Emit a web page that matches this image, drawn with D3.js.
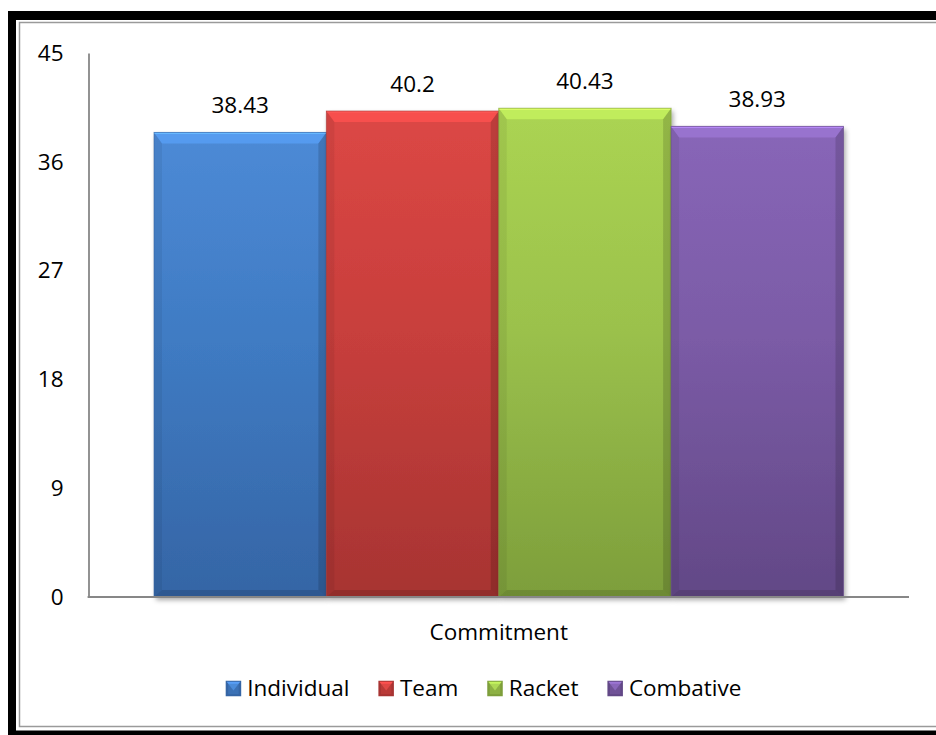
<!DOCTYPE html>
<html>
<head>
<meta charset="utf-8">
<script src="https://cdn.jsdelivr.net/npm/d3@7"></script>
<style>
  html, body { margin: 0; padding: 0; background: #fff; }
  svg { display: block; }
  text { font-family: "Open Sans", "Liberation Sans", sans-serif; fill: #000; }
</style>
</head>
<body>
<svg id="chart" width="936" height="735"></svg>
<script>
// Chart data
const categories = ["Commitment"];
const seriesNames = ["Individual", "Team", "Racket", "Combative"];
const seriesValues = [38.43, 40.2, 40.43, 38.93];
const yTicks = [0, 9, 18, 27, 36, 45];

// Fill colours per series: light (top), mid, dark (bottom)
const palette = [
  { light: "#4d8ad6", mid: "#3f7bc3", dark: "#3565a5" },
  { light: "#dc4745", mid: "#c83f3c", dark: "#a73432" },
  { light: "#abd452", mid: "#9bc14c", dark: "#7d9e3b" },
  { light: "#8866b8", mid: "#7b5ba6", dark: "#624886" }
];

const svg = d3.select("#chart");
const W = 936, H = 735;
const FS = 22.5;

// Frame: thick black border with thin grey inner rule
svg.append("rect").attr("x", 8).attr("y", 11).attr("width", 960).attr("height", 740).attr("fill", "#000");
svg.append("rect").attr("x", 16).attr("y", 20).attr("width", 950).attr("height", 710.5).attr("fill", "#fff");
svg.append("rect").attr("x", 19.5).attr("y", 22.5).attr("width", 950).attr("height", 704)
  .attr("fill", "none").attr("stroke", "#9a9a9a").attr("stroke-width", 1.5);

const plot = { left: 88.5, right: 909, top: 53, bottom: 597 };

const y = d3.scaleLinear().domain([0, 45]).range([plot.bottom, plot.top]);
const x0 = d3.scaleBand().domain(categories).range([plot.left, plot.right])
  .paddingInner(0).paddingOuter(0.095);
const x1 = d3.scaleBand().domain(seriesNames).range([0, x0.bandwidth()]).padding(0);

const defs = svg.append("defs");
palette.forEach((c, i) => {
  const g = defs.append("linearGradient").attr("id", "grad" + i)
    .attr("x1", 0).attr("y1", 0).attr("x2", 0).attr("y2", 1);
  g.append("stop").attr("offset", "0%").attr("stop-color", c.light);
  g.append("stop").attr("offset", "45%").attr("stop-color", c.mid);
  g.append("stop").attr("offset", "100%").attr("stop-color", c.dark);
});
const shadow = defs.append("filter").attr("id", "shadow")
  .attr("x", "-10%").attr("y", "-10%").attr("width", "130%").attr("height", "130%");
shadow.append("feDropShadow").attr("dx", 2).attr("dy", 3).attr("stdDeviation", 2.5)
  .attr("flood-color", "#000").attr("flood-opacity", 0.35);

// Axes (no tick marks, grey lines)
const yAxis = d3.axisLeft(y).tickValues(yTicks).tickSize(0).tickPadding(25);
const yG = svg.append("g").attr("transform", `translate(${plot.left},0)`).call(yAxis);
yG.select(".domain").attr("stroke", "#878787").attr("stroke-width", 1.8);
yG.selectAll("text").attr("font-size", FS).attr("font-family", "'Open Sans', sans-serif").attr("fill", "#000");

const data = seriesNames.map((s, i) => ({ cat: categories[0], name: s, value: seriesValues[i], i }));

// Bars with bevelled edges
const bars = svg.append("g").selectAll("g.bar").data(data).join("g").attr("class", "bar")
  .attr("transform", d => `translate(${x0(d.cat) + x1(d.name)},0)`);

bars.each(function (d) {
  const g = d3.select(this);
  const w = x1.bandwidth();
  const top = y(d.value), bot = y(0);
  const c = palette[d.i];
  const bt = 11, bs = 8, bb = 7;
  g.append("rect").attr("x", 0).attr("y", top).attr("width", w).attr("height", bot - top)
    .attr("fill", `url(#grad${d.i})`).attr("filter", "url(#shadow)");
  // top bevel
  g.append("path").attr("d", `M0,${top}L${w},${top}L${w - bs},${top + bt}L${bs},${top + bt}Z`)
    .attr("fill", d3.color(c.light).brighter(0.35)).attr("opacity", 0.9);
  g.append("line").attr("x1", 0).attr("x2", w).attr("y1", top + 0.8).attr("y2", top + 0.8)
    .attr("stroke", d3.color(c.light).brighter(0.8)).attr("stroke-width", 1.5);
  // side bevels
  g.append("path").attr("d", `M0,${top}L${bs},${top + bt}L${bs},${bot - bb}L0,${bot}Z`)
    .attr("fill", "#000").attr("opacity", 0.06);
  g.append("path").attr("d", `M${w},${top}L${w - bs},${top + bt}L${w - bs},${bot - bb}L${w},${bot}Z`)
    .attr("fill", "#000").attr("opacity", 0.14);
  // bottom bevel
  g.append("path").attr("d", `M0,${bot}L${bs},${bot - bb}L${w - bs},${bot - bb}L${w},${bot}Z`)
    .attr("fill", "#000").attr("opacity", 0.12);
  g.append("rect").attr("x", 0).attr("y", top).attr("width", w).attr("height", bot - top)
    .attr("fill", "none").attr("stroke", c.dark).attr("stroke-width", 1).attr("opacity", 0.6);
});

// Value labels
bars.append("text")
  .attr("x", x1.bandwidth() / 2)
  .attr("y", d => y(d.value) - 19)
  .attr("text-anchor", "middle")
  .attr("font-size", FS)
  .text(d => d.value);

// X axis line drawn over bar bottoms
svg.append("line").attr("x1", plot.left - 0.9).attr("x2", plot.right)
  .attr("y1", plot.bottom).attr("y2", plot.bottom)
  .attr("stroke", "#878787").attr("stroke-width", 1.8);

// Category label
svg.append("text")
  .attr("x", x0(categories[0]) + x0.bandwidth() / 2)
  .attr("y", 640)
  .attr("text-anchor", "middle")
  .attr("font-size", FS)
  .text(categories[0]);

// Legend
const legend = svg.append("g");
const items = legend.selectAll("g").data(data).join("g");
items.each(function (d) {
  const g = d3.select(this);
  const c = palette[d.i];
  const s = 15.5;
  g.append("rect").attr("x", 0).attr("y", -s / 2).attr("width", s).attr("height", s).attr("fill", c.dark);
  g.append("path").attr("d", `M1,${-s / 2 + 1}L${s - 1},${-s / 2 + 1}L${s / 2},${2}Z`)
    .attr("fill", d3.color(c.light).brighter(0.4));
  g.append("rect").attr("x", 2.5).attr("y", -s / 2 + 3).attr("width", s - 5).attr("height", s - 5)
    .attr("fill", c.mid).attr("opacity", 0.55);
  g.append("text").attr("x", s + 6).attr("y", 0).attr("dy", "0.35em")
    .attr("font-size", FS).text(d.name);
});
let widths = [];
items.each(function () { widths.push(this.getBBox().width); });
const gap = 29;
const total = d3.sum(widths) + gap * (widths.length - 1);
let cx = 483.5 - total / 2;
items.attr("transform", (d, i) => {
  const t = `translate(${cx},688.5)`;
  cx += widths[i] + gap;
  return t;
});
</script>
</body>
</html>
